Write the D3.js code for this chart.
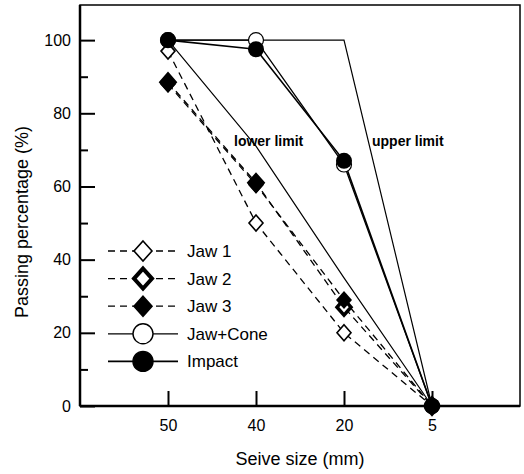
<!DOCTYPE html>
<html>
<head>
<meta charset="utf-8">
<script src="https://cdn.jsdelivr.net/npm/d3@7"></script>
<style>
  body { margin: 0; background: #fff; }
  text { font-family: "Liberation Sans", Arial, sans-serif; }
</style>
</head>
<body>
<svg id="chart" width="524" height="474"></svg>
<script>
// sieve sizes on the x axis (categorical)
var sizes = ['50', '40', '20', '5'];

// passing percentage for each crusher
var jaw1 = [97, 50, 20, 0];
var jaw2 = [88.5, 61, 27, 0];
var jaw3 = [88, 60.5, 29, 0];
var jawCone = [100, 100, 66, 0];
var impact = [100, 97.5, 67, 0];

// grading envelope
var lowerLimit = [100, 71, 35, 0];
var upperLimit = [100, 100, 100, 0];

var yTicks = [0, 20, 40, 60, 80, 100];
var yMinor = [10, 30, 50, 70, 90];

var series = [
    {name: 'Jaw 1', values: jaw1, marker: 'diamondOpen', dash: '7,5'},
    {name: 'Jaw 2', values: jaw2, marker: 'diamondThick', dash: '7,5'},
    {name: 'Jaw 3', values: jaw3, marker: 'diamondFilled', dash: '7,5'},
    {name: 'Jaw+Cone', values: jawCone, marker: 'circleOpen', dash: null},
    {name: 'Impact', values: impact, marker: 'circleFilled', dash: null}
];

// plot box (note: "top" is a reserved window global, so use plotTop)
var plotLeft = 80, plotRight = 520, plotTop = 5, plotBottom = 406;

var svg = d3.select('#chart');

var x = d3.scalePoint().domain(sizes).range([plotLeft, plotRight]).padding(1);
var y = d3.scaleLinear().domain([0, 109.6]).range([plotBottom, plotTop]);

var line = d3.line()
    .x(function (d, i) { return x(sizes[i]); })
    .y(function (d) { return y(d); });

function diamondPath(w, h) {
    return 'M0,' + (-h) + 'L' + w + ',0L0,' + h + 'L' + (-w) + ',0Z';
}

function drawMarker(g, type) {
    switch (type) {
        case 'diamondOpen':
            g.append('path').attr('d', diamondPath(7, 8)).attr('fill', '#fff').attr('stroke', '#000').attr('stroke-width', 1.6);
            break;
        case 'diamondThick':
            g.append('path').attr('d', diamondPath(7, 8)).attr('fill', '#fff').attr('stroke', '#000').attr('stroke-width', 3.5);
            break;
        case 'diamondFilled':
            g.append('path').attr('d', diamondPath(8, 9)).attr('fill', '#000');
            break;
        case 'circleOpen':
            g.append('circle').attr('r', 7.5).attr('fill', '#fff').attr('stroke', '#000').attr('stroke-width', 1.2);
            break;
        case 'circleFilled':
        default:
            g.append('circle').attr('r', 8).attr('fill', '#000');
    }
}

// limit lines
[lowerLimit, upperLimit].forEach(function (vals) {
    svg.append('path')
        .attr('d', line(vals))
        .attr('fill', 'none')
        .attr('stroke', '#000')
        .attr('stroke-width', 1.2);
});

// series lines
series.forEach(function (s) {
    svg.append('path')
        .attr('d', line(s.values))
        .attr('fill', 'none')
        .attr('stroke', '#000')
        .attr('stroke-width', s.marker === 'circleFilled' ? 1.6 : 1.3)
        .attr('stroke-dasharray', s.dash);
});

// markers
series.forEach(function (s) {
    s.values.forEach(function (v, i) {
        var g = svg.append('g').attr('transform', 'translate(' + x(sizes[i]) + ',' + y(v) + ')');
        drawMarker(g, s.marker);
    });
});

// frame
svg.append('rect')
    .attr('x', plotLeft).attr('y', plotTop)
    .attr('width', plotRight - plotLeft).attr('height', plotBottom - plotTop)
    .attr('fill', 'none').attr('stroke', '#000').attr('stroke-width', 1.5);
svg.append('line').attr('x1', plotLeft).attr('x2', plotLeft).attr('y1', plotTop).attr('y2', plotBottom)
    .attr('stroke', '#000').attr('stroke-width', 2.5);
svg.append('line').attr('x1', plotLeft).attr('x2', plotRight).attr('y1', plotBottom).attr('y2', plotBottom)
    .attr('stroke', '#000').attr('stroke-width', 2.5);

// y axis, ticks pointing inward
var yAxis = svg.append('g')
    .attr('transform', 'translate(' + plotLeft + ',0)')
    .call(d3.axisLeft(y).tickValues(yTicks).tickSize(-15).tickPadding(9));
yAxis.select('.domain').remove();
yAxis.selectAll('line').attr('stroke-width', 2);
yAxis.selectAll('text').style('font-size', '16px').style('font-family', '"Liberation Sans", Arial, sans-serif').attr('fill', '#000');

var yAxisMinor = svg.append('g')
    .attr('transform', 'translate(' + plotLeft + ',0)')
    .call(d3.axisLeft(y).tickValues(yMinor).tickSize(-8).tickFormat(''));
yAxisMinor.select('.domain').remove();
yAxisMinor.selectAll('line').attr('stroke-width', 2);

// x axis
var xAxis = svg.append('g')
    .attr('transform', 'translate(0,' + plotBottom + ')')
    .call(d3.axisBottom(x).tickSize(-15).tickPadding(14));
xAxis.select('.domain').remove();
xAxis.selectAll('line').attr('stroke-width', 2);
xAxis.selectAll('text').style('font-size', '16px').style('font-family', '"Liberation Sans", Arial, sans-serif').attr('fill', '#000');

// axis titles
svg.append('text')
    .attr('x', 300).attr('y', 465)
    .attr('text-anchor', 'middle')
    .style('font-size', '18px')
    .text('Seive size (mm)');

svg.append('text')
    .attr('transform', 'translate(28,' + 222 + ') rotate(-90)')
    .attr('text-anchor', 'middle')
    .style('font-size', '18px')
    .text('Passing percentage (%)');

// limit labels
svg.append('text')
    .attr('x', 234).attr('y', 146)
    .style('font-size', '14px').style('font-weight', 'bold')
    .style('font-family', '"Liberation Sans Narrow", "Arial Narrow", "Liberation Sans", sans-serif')
    .text('lower limit');
svg.append('text')
    .attr('x', 372).attr('y', 146)
    .style('font-size', '14px').style('font-weight', 'bold')
    .style('font-family', '"Liberation Sans Narrow", "Arial Narrow", "Liberation Sans", sans-serif')
    .text('upper limit');

// legend
var legend = svg.append('g').attr('transform', 'translate(108,251)');
series.forEach(function (s, i) {
    var row = legend.append('g').attr('transform', 'translate(0,' + (i * 27.6) + ')');
    row.append('line')
        .attr('x1', 0).attr('x2', 70)
        .attr('stroke', '#000')
        .attr('stroke-width', s.marker === 'circleFilled' ? 1.6 : 1.3)
        .attr('stroke-dasharray', s.dash);
    var m = row.append('g').attr('transform', 'translate(35,0)');
    if (s.marker.indexOf('circle') === 0) {
        m.append('circle').attr('r', 10)
            .attr('fill', s.marker === 'circleFilled' ? '#000' : '#fff')
            .attr('stroke', '#000').attr('stroke-width', 1.4);
    } else {
        m.append('path').attr('d', diamondPath(9, 10))
            .attr('fill', s.marker === 'diamondFilled' ? '#000' : '#fff')
            .attr('stroke', '#000')
            .attr('stroke-width', s.marker === 'diamondThick' ? 4 : 1.6);
    }
    row.append('text')
        .attr('x', 79).attr('y', 6)
        .style('font-size', '17px')
        .text(s.name);
});
</script>
</body>
</html>
